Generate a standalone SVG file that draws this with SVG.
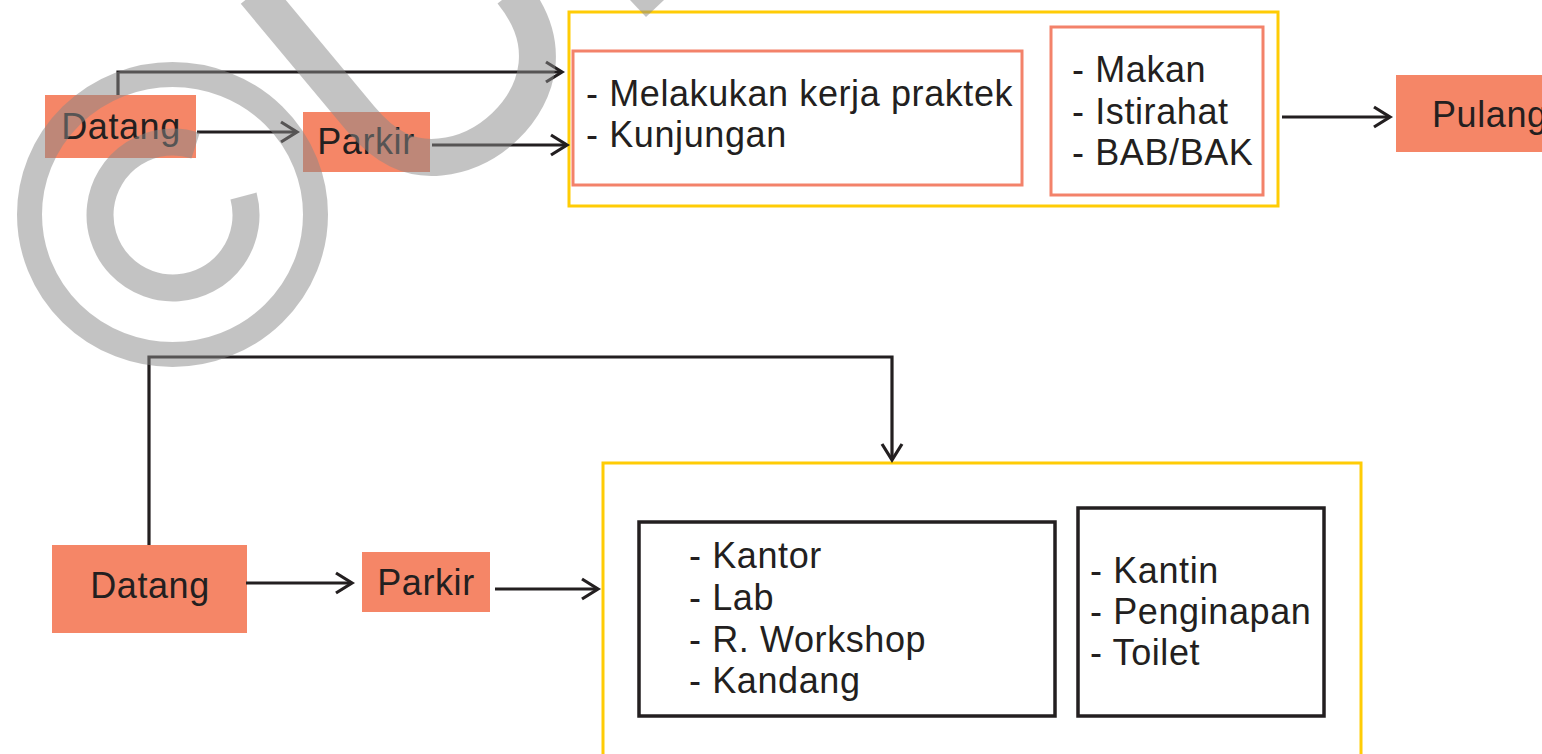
<svg xmlns="http://www.w3.org/2000/svg" width="1542" height="754" viewBox="0 0 1542 754">
  <defs>
    <marker id="arrow" viewBox="-20 -13 24 26" markerWidth="24" markerHeight="26" refX="0" refY="0" orient="auto" markerUnits="userSpaceOnUse">
      <path d="M -16 -10 L 0 0 L -16 10" fill="none" stroke="#231f20" stroke-width="3.2"/>
    </marker>
    <style>
      .step { fill: #f58667; }
      .label { font-family: "Liberation Sans", Arial, sans-serif; font-size: 36px; fill: #231f20; letter-spacing: 0.6px; }
      .mid { text-anchor: middle; }
      .zone { fill: none; stroke: #ffcc05; stroke-width: 3; }
      .salmon { fill: #ffffff; stroke: #f3826a; stroke-width: 3; }
      .dark { fill: #ffffff; stroke: #231f20; stroke-width: 3.5; }
      .conn { fill: none; stroke: #231f20; stroke-width: 3.2; marker-end: url(#arrow); }
      .wm { fill: none; stroke: #898989; }
    </style>
  </defs>

  <rect width="1542" height="754" fill="#ffffff"/>

  <!-- upper flow: visitor / practical work -->
  <g id="datang-top">
    <rect class="step" x="45" y="95" width="151" height="63"/>
    <text class="label mid" x="121" y="139">Datang</text>
  </g>
  <g id="parkir-top">
    <rect class="step" x="303" y="112" width="127" height="60"/>
    <text class="label mid" x="366" y="154">Parkir</text>
  </g>
  <g id="aktivitas-top">
    <rect class="zone" x="569" y="12" width="709" height="194"/>
    <g id="kegiatan-utama">
      <rect class="salmon" x="573" y="51" width="449" height="134"/>
      <text class="label" x="586" y="106">- Melakukan kerja praktek</text>
      <text class="label" x="586" y="147">- Kunjungan</text>
    </g>
    <g id="kegiatan-pendukung">
      <rect class="salmon" x="1051" y="27" width="212" height="168"/>
      <text class="label" x="1072" y="82">- Makan</text>
      <text class="label" x="1072" y="124">- Istirahat</text>
      <text class="label" x="1072" y="165">- BAB/BAK</text>
    </g>
  </g>
  <g id="pulang">
    <rect class="step" x="1396" y="75" width="150" height="77"/>
    <text class="label" x="1432" y="127">Pulang</text>
  </g>

  <!-- lower flow: facilities -->
  <g id="datang-bottom">
    <rect class="step" x="52" y="545" width="195" height="88"/>
    <text class="label mid" x="150" y="598">Datang</text>
  </g>
  <g id="parkir-bottom">
    <rect class="step" x="362" y="552" width="128" height="60"/>
    <text class="label mid" x="426" y="595">Parkir</text>
  </g>
  <g id="fasilitas">
    <rect class="zone" x="603" y="463" width="758" height="300"/>
    <g id="fasilitas-utama">
      <rect class="dark" x="639" y="522" width="416" height="194"/>
      <text class="label" x="689" y="568">- Kantor</text>
      <text class="label" x="689" y="610">- Lab</text>
      <text class="label" x="689" y="652">- R. Workshop</text>
      <text class="label" x="689" y="693">- Kandang</text>
    </g>
    <g id="fasilitas-pendukung">
      <rect class="dark" x="1078" y="508" width="246" height="208"/>
      <text class="label" x="1090" y="583">- Kantin</text>
      <text class="label" x="1090" y="624">- Penginapan</text>
      <text class="label" x="1090" y="665">- Toilet</text>
    </g>
  </g>

  <g id="connectors">
    <path class="conn" d="M118 95 V72 H562"/>
    <path class="conn" d="M197 132 H297"/>
    <path class="conn" d="M432 145 H567"/>
    <path class="conn" d="M1282 117 H1390"/>
    <path class="conn" d="M149 545 V357 H892 V460"/>
    <path class="conn" d="M246 583 H352"/>
    <path class="conn" d="M495 589 H598"/>
  </g>

  <!-- translucent copyright mark laid over the drawing -->
  <g id="watermark" opacity="0.5">
    <ellipse class="wm" cx="172.5" cy="214.5" rx="143" ry="140" stroke-width="25"/>
    <path class="wm" d="M 243.5 196 A 73 73 0 1 1 195.6 145.6" stroke-width="27"/>
    <path class="wm" d="M 255 -8 L 360 118 C 385 148 410 160 440 157 C 490 152 532 110 537 65 C 540 35 528 12 512 -8" stroke-width="37"/>
    <polygon points="630,0 664,0 646,17" fill="#898989"/>
  </g>
</svg>
